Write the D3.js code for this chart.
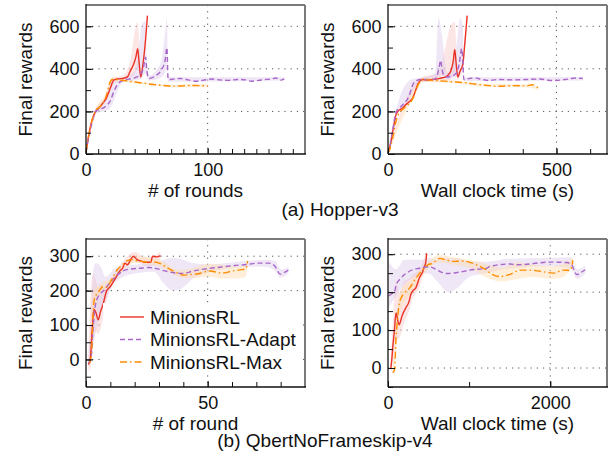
<!DOCTYPE html>
<html>
<head>
<meta charset="utf-8">
<script src="https://cdn.jsdelivr.net/npm/d3@7"></script>
<style>
  body { margin: 0; background: #fff; }
  svg { font-family: "Liberation Sans", Arial, sans-serif; }
</style>
</head>
<body>
<svg id="chart" width="613" height="460"></svg>
<script>
// ---- Hopper-v3, x = # of rounds ----
const hopperRoundRed = [[0,5],[2,80],[5,160],[8,200],[11,218],[14,240],[17,265],[20,310],[23,348],[27,353],[31,356],[34,362],[36,385],[39,420],[41,455],[42.5,495],[43.5,440],[45,362],[47,430],[49,540],[50.5,650]];
const hopperRoundRedBand = [[0,0,20],[8,190,215],[14,228,252],[20,298,330],[23,332,362],[30,345,368],[36,360,430],[40,375,570],[42,400,620],[43.5,385,560],[45,350,385],[47,410,450],[50.5,635,660]];
const hopperRoundAdapt = [[0,10],[3,100],[6,170],[8,200],[11,210],[14,216],[17,228],[20,250],[23,295],[26,328],[30,345],[35,352],[40,358],[44,370],[47,400],[49,455],[50,390],[52,355],[55,360],[58,370],[62,395],[65,440],[66.5,500],[67.5,350],[72,352],[78,355],[84,348],[90,342],[96,346],[103,352],[110,348],[117,346],[125,350],[131,348],[136,342],[142,346],[147,350],[152,352],[156,357],[160,347],[163,353]];
const hopperRoundAdaptBand = [[0,0,20],[8,190,215],[14,200,235],[18,205,300],[22,240,345],[26,300,352],[30,335,358],[40,345,385],[44,350,520],[46,360,610],[49,380,625],[50,360,450],[52,345,368],[58,350,395],[62,360,440],[65,380,570],[66.5,400,640],[67.5,340,362],[163,345,360]];
const hopperRoundMax = [[0,10],[2,80],[5,160],[8,205],[11,220],[14,238],[17,280],[19,325],[21,348],[23,352],[27,348],[33,344],[40,338],[48,332],[56,326],[64,322],[72,319],[80,320],[88,322],[95,321],[100,320]];
const hopperRoundMaxBand = [[0,5,15],[8,198,212],[17,268,292],[20,322,352],[23,342,360],[40,332,344],[72,313,325],[90,314,330],[100,313,327]];

// ---- Hopper-v3, x = wall clock time (s) ----
const hopperTimeRed = [[0,5],[5,30],[14,105],[24,185],[32,205],[42,215],[53,232],[63,245],[73,263],[80,290],[88,326],[96,345],[103,350],[118,348],[133,350],[148,353],[158,357],[168,360],[178,370],[188,397],[194,440],[198,491],[202,430],[207,362],[214,390],[222,420],[228,520],[235,650]];
const hopperTimeRedBand = [[0,0,20],[50,220,245],[100,340,360],[150,340,380],[170,345,500],[185,350,600],[198,380,620],[207,350,385],[222,400,445],[235,635,660]];
const hopperTimeAdapt = [[0,5],[5,30],[10,70],[14,110],[20,170],[25,200],[33,215],[40,225],[50,242],[57,255],[64,280],[70,310],[75,330],[84,345],[100,350],[120,350],[140,352],[146,370],[152,410],[156,440],[160,400],[166,370],[175,362],[185,365],[195,370],[205,385],[212,430],[219,495],[222,440],[225,350],[240,354],[255,358],[280,350],[300,346],[330,350],[370,348],[410,350],[450,352],[490,345],[527,350],[557,357],[578,355]];
const hopperTimeAdaptBand = [[0,0,20],[25,185,215],[40,210,290],[60,235,340],[80,305,355],[100,340,358],[140,342,380],[150,360,640],[160,370,560],[175,350,380],[200,360,470],[215,380,640],[222,400,600],[225,342,360],[578,345,362]];
const hopperTimeMax = [[0,5],[5,20],[14,76],[24,155],[34,195],[44,210],[55,225],[65,240],[75,265],[85,310],[95,340],[105,350],[125,347],[150,344],[175,341],[200,338],[234,334],[260,328],[289,323],[329,318],[369,321],[408,320],[428,325],[440,318],[447,308]];
const hopperTimeMaxBand = [[0,0,12],[85,295,325],[105,340,360],[200,332,345],[289,316,330],[408,314,327],[447,302,315]];

// ---- QbertNoFrameskip-v4, x = # of round ----
const qbertRoundRed = [[1,-15],[1.8,5],[2.5,80],[3.3,145],[4,138],[5,115],[6,140],[7,160],[8.5,200],[10,212],[12,235],[14,258],[15,265],[16,280],[17,275],[18.5,292],[19.5,300],[21,290],[23,285],[24.5,282],[26.7,283],[27.3,300],[29,298],[30.6,302]];
const qbertRoundRedBand = [[1,-35,20],[2,-20,200],[3,60,250],[4,80,230],[5,75,210],[6,90,220],[7,120,210],[9,185,220],[14,245,275],[20,285,312],[25,270,295],[30.6,290,312]];
const qbertRoundAdapt = [[1,-10],[2,0],[2.8,80],[3.5,140],[4.5,175],[5.5,188],[7.5,202],[10,225],[13,246],[15.5,258],[18.5,263],[22,265],[26,267],[29,264],[32,258],[36,252],[40,250],[44,257],[50,264],[55,268],[61,273],[66,276],[71,280],[75,280],[77.5,272],[79.8,248],[81.5,253],[83.2,260]];
const qbertRoundAdaptBand = [[1,-20,10],[2,-10,120],[3,40,260],[4,80,280],[6,130,270],[8,170,240],[12,225,265],[20,250,275],[28,255,280],[32,220,290],[36,200,295],[40,210,290],[44,235,280],[50,252,276],[60,265,282],[70,270,288],[75,268,290],[78,255,285],[80,238,262],[83.2,250,268]];
const qbertRoundMax = [[1.5,-10],[2.3,20],[3,150],[3.6,180],[4.5,190],[5.5,200],[7,212],[8.5,210],[10,225],[11.5,245],[13,262],[15,275],[17,287],[19,290],[21,286],[23,285],[25,283],[27,285],[29,282],[31,277],[33,268],[35,260],[38,250],[40,245],[43,247],[46,249],[49,255],[51,257],[54,253],[56,251],[58,253],[60,257],[62,259],[64,261],[65.7,263],[66.4,286]];
const qbertRoundMaxBand = [[1.5,-25,5],[3,100,200],[5,180,215],[10,215,235],[20,280,300],[30,270,290],[38,240,260],[44,235,265],[50,240,278],[56,235,275],[62,235,270],[65.7,240,278],[66.4,280,292]];

// ---- QbertNoFrameskip-v4, x = wall clock time (s) ----
const qbertTimeRed = [[35,0],[50,30],[58,53],[78,97],[99,145],[119,127],[136,114],[177,140],[218,158],[259,175],[280,193],[300,202],[345,212],[386,237],[428,254],[448,267],[462,275],[470,285],[477,302]];
const qbertTimeRedBand = [[35,-20,20],[60,20,120],[100,75,230],[140,80,200],[200,120,230],[260,150,235],[300,180,245],[400,220,265],[477,295,310]];
const qbertTimeAdapt = [[10,190],[40,195],[80,200],[100,219],[160,237],[263,255],[387,263],[510,267],[572,262],[634,255],[724,249],[798,250],[889,253],[1004,258],[1218,263],[1259,268],[1506,274],[1588,272],[2000,279],[2206,278],[2268,270],[2329,246],[2380,252],[2432,259]];
const qbertTimeAdaptBand = [[10,160,280],[100,190,260],[200,220,285],[400,245,285],[500,250,290],[600,230,285],[750,200,290],[850,210,290],[1000,240,280],[1200,250,280],[1500,262,288],[2000,268,290],[2250,262,292],[2329,235,260],[2432,250,268]];
const qbertTimeMax = [[58,-12],[80,-5],[99,79],[118,130],[136,167],[160,184],[200,197],[263,210],[345,237],[428,259],[490,272],[551,276],[600,285],[634,289],[716,285],[798,281],[922,282],[1045,276],[1130,268],[1210,259],[1260,250],[1383,241],[1506,247],[1630,258],[1753,258],[1877,255],[2041,250],[2160,258],[2247,257],[2280,284]];
const qbertTimeMaxBand = [[58,-20,0],[100,40,120],[150,150,200],[300,200,235],[500,262,282],[634,278,298],[800,272,292],[1000,265,285],[1200,240,275],[1400,228,265],[1600,235,278],[1800,240,272],[2000,235,268],[2160,240,275],[2280,275,292]];

const legendNames = ["MinionsRL", "MinionsRL-Adapt", "MinionsRL-Max"];

const styles = [
  { color: "#ea3326", band: "#f9c6c6", dash: null },
  { color: "#a866c9", band: "#dcc8ec", dash: "5,3" },
  { color: "#ff8c00", band: "#ffdcae", dash: "7,3,1.5,3" }
];

const svg = d3.select("#chart");

function drawPanel(p) {
  const x = d3.scaleLinear().domain(p.xDomain).range([p.left, p.right]);
  const y = d3.scaleLinear().domain(p.yDomain).range([p.bottom, p.top]);
  const g = svg.append("g");

  // dotted grid at major ticks
  g.selectAll(".hgrid").data(p.yGrid).join("line")
    .attr("x1", p.left).attr("x2", p.right)
    .attr("y1", d => y(d)).attr("y2", d => y(d))
    .attr("stroke", "#555").attr("stroke-width", 1).attr("stroke-dasharray", "1.2,5");
  g.selectAll(".vgrid").data(p.xGrid).join("line")
    .attr("x1", d => x(d)).attr("x2", d => x(d))
    .attr("y1", p.top).attr("y2", p.bottom)
    .attr("stroke", "#555").attr("stroke-width", 1).attr("stroke-dasharray", "1.2,5");

  const area = d3.area().x(d => x(d[0])).y0(d => y(d[1])).y1(d => y(d[2])).curve(d3.curveMonotoneX);
  const line = d3.line().x(d => x(d[0])).y(d => y(d[1])).curve(d3.curveMonotoneX);

  p.bands.forEach((b, i) => {
    g.append("path").datum(b).attr("d", area)
      .attr("fill", styles[i].band).attr("opacity", 0.45);
  });
  p.lines.forEach((l, i) => {
    g.append("path").datum(l).attr("d", line)
      .attr("fill", "none")
      .attr("stroke", styles[i].color)
      .attr("stroke-width", 1.4)
      .attr("stroke-dasharray", styles[i].dash);
  });

  // axes (inward ticks)
  const minorX = g.append("g").attr("transform", `translate(0,${p.bottom})`)
    .call(d3.axisBottom(x).tickValues(p.xMinor).tickSize(-5).tickFormat(""));
  const majorX = g.append("g").attr("transform", `translate(0,${p.bottom})`)
    .call(d3.axisBottom(x).tickValues(p.xMajor).tickSize(-6).tickPadding(9.5).tickFormat(d3.format("d")));
  const minorY = g.append("g").attr("transform", `translate(${p.left},0)`)
    .call(d3.axisLeft(y).tickValues(p.yMinor).tickSize(-5).tickFormat(""));
  const majorY = g.append("g").attr("transform", `translate(${p.left},0)`)
    .call(d3.axisLeft(y).tickValues(p.yMajor).tickSize(-7).tickPadding(6.5).tickFormat(d3.format("d")));

  [minorX, majorX, minorY, majorY].forEach(a => {
    a.select(".domain").remove();
    a.selectAll("line").attr("stroke", "#111");
    a.selectAll("text").attr("font-size", 18).attr("fill", "#111")
      .attr("font-family", "Liberation Sans, Arial, sans-serif");
  });

  // frame: gray top/right, black left/bottom
  g.append("line").attr("x1", p.left).attr("x2", p.right).attr("y1", p.top).attr("y2", p.top)
    .attr("stroke", "#7a7a7a").attr("stroke-width", 2);
  g.append("line").attr("x1", p.right).attr("x2", p.right).attr("y1", p.top).attr("y2", p.bottom)
    .attr("stroke", "#7a7a7a").attr("stroke-width", 2);
  g.append("line").attr("x1", p.left).attr("x2", p.left).attr("y1", p.top - 1).attr("y2", p.bottom)
    .attr("stroke", "#111").attr("stroke-width", 1.3);
  g.append("line").attr("x1", p.left).attr("x2", p.right + 1).attr("y1", p.bottom).attr("y2", p.bottom)
    .attr("stroke", "#111").attr("stroke-width", 1.3);

  // axis titles
  g.append("text")
    .attr("x", (p.left + p.right) / 2).attr("y", p.bottom + 43)
    .attr("text-anchor", "middle").attr("font-size", 19).attr("fill", "#111")
    .text(p.xLabel);
  g.append("text")
    .attr("transform", `translate(${p.left - 54},${(p.top + p.bottom) / 2}) rotate(-90)`)
    .attr("text-anchor", "middle").attr("font-size", 19).attr("fill", "#111")
    .text("Final rewards");

  return { x, y, g };
}

const topRow = { top: 5, bottom: 154 };
const bottomRow = { top: 239, bottom: 387 };
const leftCol = { left: 86, right: 305 };
const rightCol = { left: 388, right: 607 };

drawPanel({
  ...topRow, ...leftCol,
  xDomain: [0, 180], yDomain: [0, 700],
  xMajor: [0, 100], xMinor: d3.range(0, 181, 10), xGrid: [100],
  yMajor: [0, 200, 400, 600], yMinor: d3.range(0, 701, 100), yGrid: [200, 400, 600],
  xLabel: "# of rounds",
  lines: [hopperRoundRed, hopperRoundAdapt, hopperRoundMax],
  bands: [hopperRoundRedBand, hopperRoundAdaptBand, hopperRoundMaxBand]
});

drawPanel({
  ...topRow, ...rightCol,
  xDomain: [0, 650], yDomain: [0, 700],
  xMajor: [0, 500], xMinor: d3.range(0, 651, 100), xGrid: [500],
  yMajor: [0, 200, 400, 600], yMinor: d3.range(0, 701, 100), yGrid: [200, 400, 600],
  xLabel: "Wall clock time (s)",
  lines: [hopperTimeRed, hopperTimeAdapt, hopperTimeMax],
  bands: [hopperTimeRedBand, hopperTimeAdaptBand, hopperTimeMaxBand]
});

const qbertLeft = drawPanel({
  ...bottomRow, ...leftCol,
  xDomain: [0, 90], yDomain: [-80, 350],
  xMajor: [0, 50], xMinor: d3.range(0, 91, 10), xGrid: [50],
  yMajor: [0, 100, 200, 300], yMinor: d3.range(-50, 351, 50), yGrid: [0, 100, 200, 300],
  xLabel: "# of round",
  lines: [qbertRoundRed, qbertRoundAdapt, qbertRoundMax],
  bands: [qbertRoundRedBand, qbertRoundAdaptBand, qbertRoundMaxBand]
});

drawPanel({
  ...bottomRow, ...rightCol,
  xDomain: [0, 2700], yDomain: [-50, 340],
  xMajor: [0, 2000], xMinor: d3.range(0, 2701, 1000), xGrid: [2000],
  yMajor: [0, 100, 200, 300], yMinor: d3.range(-50, 341, 50), yGrid: [0, 100, 200, 300],
  xLabel: "Wall clock time (s)",
  lines: [qbertTimeRed, qbertTimeAdapt, qbertTimeMax],
  bands: [qbertTimeRedBand, qbertTimeAdaptBand, qbertTimeMaxBand]
});

// legend inside the Qbert rounds panel
const legend = qbertLeft.g.append("g").attr("transform", "translate(103,303)");
legend.append("rect").attr("width", 199).attr("height", 70).attr("fill", "#fff");
legendNames.forEach((name, i) => {
  const row = legend.append("g").attr("transform", `translate(0,${14 + i * 22.5})`);
  row.append("line").attr("x1", 17).attr("x2", 41)
    .attr("stroke", styles[i].color).attr("stroke-width", 1.4)
    .attr("stroke-dasharray", styles[i].dash);
  row.append("text").attr("x", 47).attr("y", 6.5)
    .attr("font-size", 19).attr("fill", "#111").text(name);
});

// sub-captions
svg.append("text").attr("x", 340).attr("y", 216).attr("text-anchor", "middle")
  .attr("font-size", 19).attr("fill", "#111").text("(a) Hopper-v3");
svg.append("text").attr("x", 325).attr("y", 447).attr("text-anchor", "middle")
  .attr("font-size", 19).attr("fill", "#111").text("(b) QbertNoFrameskip-v4");
</script>
</body>
</html>
